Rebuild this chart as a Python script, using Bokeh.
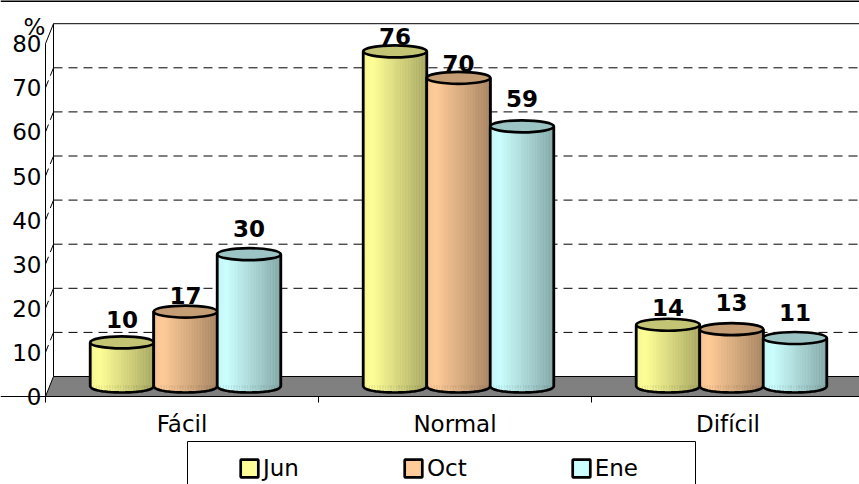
from bokeh.plotting import figure
from bokeh.models import Range1d, LinearAxis, FixedTicker, Legend, LegendItem, Label
from bokeh.embed import file_html
from bokeh.resources import INLINE
import numpy as np

categories = ["Fácil", "Normal", "Difícil"]
series = ["Jun", "Oct", "Ene"]
jun = [10, 76, 14]
oct_ = [17, 70, 13]
ene = [30, 59, 11]
series_values = [jun, oct_, ene]
y_ticks = [0, 10, 20, 30, 40, 50, 60, 70, 80]
base_colors = [(255, 255, 153), (255, 204, 153), (204, 255, 255)]
label_lift = [[8, 0, 3], [2, 0, 12], [11, 13, 11]]  # extra pixels above each bar's label
FONT = "DejaVu Sans"

PX_X = 273.0       # one category in pixels
PX_Y = 4.41        # one percent in pixels
W, H = 859, 484
ORIGIN_X, ORIGIN_Y = 45, 396  # where x=0, y=0 fall on the canvas
x_start, x_end = -ORIGIN_X / PX_X, (W - ORIGIN_X) / PX_X
y_start, y_end = -(H - ORIGIN_Y) / PX_Y, ORIGIN_Y / PX_Y
BAR_SHIFT = 10 / PX_Y
WALL_SHIFT = 20 / PX_Y

p = figure(width=W, height=H, output_backend="svg", toolbar_location=None,
           x_range=Range1d(x_start, x_end), y_range=Range1d(y_start, y_end),
           min_border=0, x_axis_type=None, y_axis_type=None)
p.outline_line_color = None
p.grid.visible = False
p.background_fill_color = "white"
p.border_fill_color = "white"
p.extra_y_ranges = {
    "bars": Range1d(y_start - BAR_SHIFT, y_end - BAR_SHIFT),
    "wall": Range1d(y_start - WALL_SHIFT, y_end - WALL_SHIFT),
}

dx = 8 / PX_X
# top rule of the picture
p.segment([x_start], [y_end - 0.1], [x_end], [y_end - 0.1], line_color="black", line_width=2)
# floor
p.patch([0, dx, x_end, x_end], [0, WALL_SHIFT, WALL_SHIFT, 0],
        fill_color="#808080", line_color="black", line_width=1)

# back wall and gridlines (values drawn on the shifted wall scale)
for t in y_ticks:
    if t == 0:
        continue
    top = t == 80
    p.segment([dx], [t], [x_end], [t], y_range_name="wall", line_color="black",
              line_width=1, line_dash="solid" if top else "9 6")
    p.line([0, dx], [t, t + WALL_SHIFT], line_color="black", line_width=1,
           line_dash="solid" if top else "8 5")
p.segment([dx], [0], [dx], [80], y_range_name="wall", line_color="black", line_width=1)


def shade(t):
    if t < 0.15:
        return 0.96 + 0.04 * t / 0.15
    return 1.0 - 0.34 * (t - 0.15) / 0.85


BW = 63.5 / PX_X
EH = 6 / PX_Y
OFFSET = 3.5 / PX_X
N = 40


def arc(t):
    return -EH * np.sqrt(max(0.0, 1 - (2 * t - 1) ** 2))


# plain bars under the cylinders; the legend swatches come from these
items = []
for s, name in enumerate(series):
    lefts = [g + 0.5 + OFFSET + (s - 1.5) * BW for g in range(3)]
    r = p.quad(left=lefts, right=[a + BW for a in lefts], top=series_values[s], bottom=[0, 0, 0],
               y_range_name="bars", fill_color="#%02x%02x%02x" % base_colors[s],
               line_color="black", line_width=2.7)
    items.append(LegendItem(label=name, renderers=[r]))

for g in range(3):
    for s in range(3):
        v = series_values[s][g]
        xc = g + 0.5 + OFFSET + (s - 1) * BW
        x0 = xc - BW / 2
        edges = np.linspace(0, 1, N + 1)
        xs, ys, cols = [], [], []
        for i in range(N):
            ta, tb = edges[i], edges[i + 1]
            xa, xb = x0 + ta * BW, x0 + tb * BW
            xs.append([xa, xb, xb, xa])
            ys.append([v, v, arc(tb), arc(ta)])
            f = shade((ta + tb) / 2)
            c = base_colors[s]
            cols.append("#%02x%02x%02x" % tuple(int(k * f) for k in c))
        p.patches(xs, ys, fill_color=cols, line_color=cols, line_width=0.5, y_range_name="bars")
        tt = np.linspace(0, 1, 41)
        ox = [x0] + list(x0 + tt * BW) + [x0 + BW]
        oy = [v] + [arc(t) for t in tt] + [v]
        p.line(ox, oy, line_color="black", line_width=2.7, y_range_name="bars")
        c = base_colors[s]
        p.ellipse([xc], [v], width=BW, height=2 * EH, y_range_name="bars",
                  fill_color="#%02x%02x%02x" % tuple(int(k * 0.77) for k in c),
                  line_color="black", line_width=2.7)
        p.text([xc], [v], text=[str(v)], y_range_name="bars", text_align="center",
               text_baseline="bottom", y_offset=-6 - label_lift[s][g], text_color="black",
               text_font={"value": FONT}, text_font_size="23px", text_font_style="bold")

yaxis = LinearAxis(ticker=FixedTicker(ticks=y_ticks), bounds=(0, 80), fixed_location=0)
yaxis.major_tick_out = 0
yaxis.major_tick_in = 0
yaxis.minor_tick_out = 0
yaxis.minor_tick_in = 0
yaxis.major_label_standoff = 4
yaxis.major_label_text_font = FONT
yaxis.major_label_text_font_size = "23px"
yaxis.major_label_text_color = "black"
yaxis.axis_line_color = "black"
yaxis.axis_line_width = 1
p.add_layout(yaxis, "left")

xaxis = LinearAxis(ticker=FixedTicker(ticks=[0.5, 1.5, 2.5], minor_ticks=[0, 1, 2, 3]),
                   fixed_location=0,
                   major_label_overrides={0.5: categories[0], 1.5: categories[1], 2.5: categories[2]})
xaxis.major_tick_out = 0
xaxis.major_tick_in = 0
xaxis.minor_tick_out = 6
xaxis.minor_tick_in = 0
xaxis.minor_tick_line_color = "black"
xaxis.major_label_standoff = 8
xaxis.major_label_text_font = FONT
xaxis.major_label_text_font_size = "23px"
xaxis.major_label_text_color = "black"
xaxis.axis_line_color = "black"
p.add_layout(xaxis, "below")

p.add_layout(Label(x=-11 / PX_X, y=(ORIGIN_Y - 26) / PX_Y, text="%", text_align="center",
                   text_baseline="middle", text_font=FONT, text_font_size="23px",
                   text_color="black"))

# legend box, running past the bottom edge of the picture
p.quad(left=[(187 - ORIGIN_X) / PX_X], right=[(695 - ORIGIN_X) / PX_X],
       top=[(ORIGIN_Y - 441) / PX_Y], bottom=[(ORIGIN_Y - 500) / PX_Y],
       fill_color="white", line_color="black", line_width=1)

legend = Legend(items=items, orientation="horizontal", location=(238, 3),
                glyph_width=22, glyph_height=22, label_standoff=3, spacing=103,
                padding=0, margin=0, border_line_color=None,
                background_fill_alpha=0,
                label_text_font=FONT, label_text_font_size="23px", label_text_color="black")
p.add_layout(legend, "center")

open("out.html", "w").write(file_html(p, INLINE))
